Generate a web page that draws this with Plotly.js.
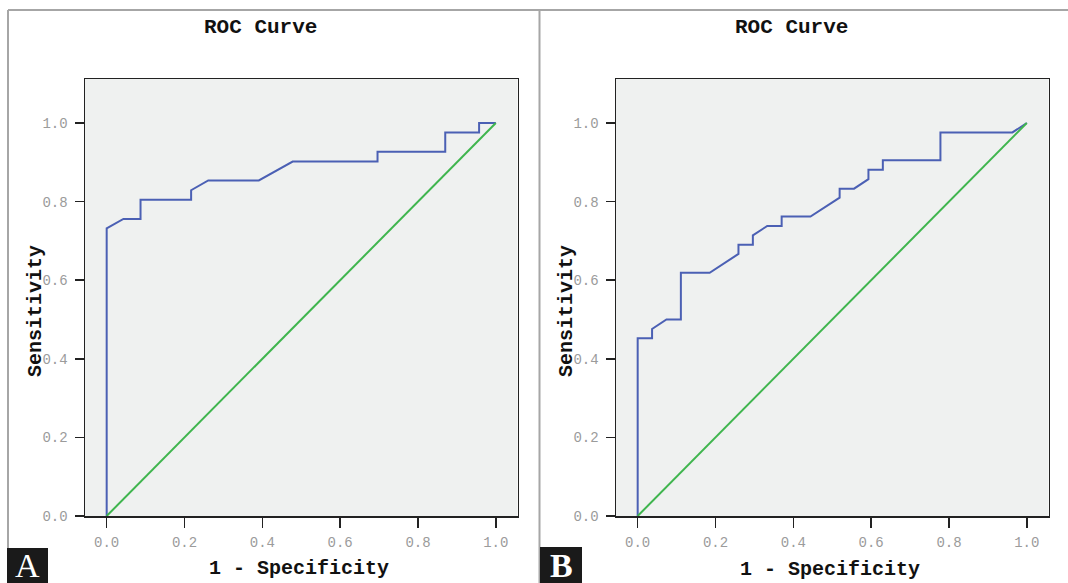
<!DOCTYPE html>
<html>
<head>
<meta charset="utf-8">
<script src="https://cdn.plot.ly/plotly-3.0.1.min.js"></script>
<style>
html, body { margin: 0; padding: 0; background: #ffffff; }
#chart { width: 1068px; height: 583px; }
</style>
</head>
<body>
<div id="chart"></div>
<script>
// ---- Data ----
// Panel A ROC curve (1 - Specificity, Sensitivity)
var fprA = [0, 0, 0.043, 0.087, 0.087, 0.217, 0.217, 0.261, 0.391, 0.478, 0.696, 0.696, 0.870, 0.870, 0.957, 0.957, 1.0];
var tprA = [0, 0.732, 0.756, 0.756, 0.805, 0.805, 0.829, 0.854, 0.854, 0.902, 0.902, 0.927, 0.927, 0.976, 0.976, 1.0, 1.0];
// Panel B ROC curve
var fprB = [0, 0, 0.037, 0.037, 0.074, 0.111, 0.111, 0.185, 0.259, 0.259, 0.296, 0.296, 0.333, 0.370, 0.370, 0.444, 0.519, 0.519, 0.556, 0.593, 0.593, 0.630, 0.630, 0.778, 0.778, 0.963, 1.0];
var tprB = [0, 0.452, 0.452, 0.476, 0.500, 0.500, 0.619, 0.619, 0.667, 0.690, 0.690, 0.714, 0.738, 0.738, 0.762, 0.762, 0.810, 0.833, 0.833, 0.857, 0.881, 0.881, 0.905, 0.905, 0.976, 0.976, 1.0];
// Reference (chance) line
var diagX = [0, 1];
var diagY = [0, 1];
// Ticks and labels
var tickVals = [0, 0.2, 0.4, 0.6, 0.8, 1.0];
var tickText = ["0.0", "0.2", "0.4", "0.6", "0.8", "1.0"];
var chartTitle = "ROC Curve";
var xTitle = "1 - Specificity";
var yTitle = "Sensitivity";
var panelLabels = ["A", "B"];

// ---- Layout helpers (pixel -> paper) ----
var W = 1068, H = 583;
function px(x) { return x / W; }
function py(y) { return 1 - y / H; }

var curveColor = "#4b60b4";
var diagColor = "#3fb54e";
var mono = "Liberation Mono, Courier New, monospace";

var traces = [
  {x: fprA, y: tprA, xaxis: "x", yaxis: "y", mode: "lines", line: {color: curveColor, width: 2}, hoverinfo: "x+y", showlegend: false},
  {x: diagX, y: diagY, xaxis: "x", yaxis: "y", mode: "lines", line: {color: diagColor, width: 2}, showlegend: false},
  {x: fprB, y: tprB, xaxis: "x2", yaxis: "y2", mode: "lines", line: {color: curveColor, width: 2}, hoverinfo: "x+y", showlegend: false},
  {x: diagX, y: diagY, xaxis: "x2", yaxis: "y2", mode: "lines", line: {color: diagColor, width: 2}, showlegend: false}
];

function xAxis(domain, anchor) {
  return {
    domain: domain, anchor: anchor, range: [-0.0557, 1.0557],
    tickmode: "array", tickvals: tickVals, ticktext: tickText,
    ticks: "outside", ticklen: 10, tickwidth: 1.5, tickcolor: "#222",
    showline: true, linecolor: "#222", linewidth: 1.5, mirror: true,
    showgrid: false, zeroline: false, fixedrange: true,
    tickfont: {family: mono, size: 14, color: "#9b9b9b"},
    ticklabelstandoff: 3
  };
}
function yAxis(domain, anchor) {
  return {
    domain: domain, anchor: anchor, range: [0, 1.112],
    tickmode: "array", tickvals: tickVals, ticktext: tickText,
    ticks: "outside", ticklen: 9, tickwidth: 1.5, tickcolor: "#222",
    showline: true, linecolor: "#222", linewidth: 1.5, mirror: true,
    showgrid: false, zeroline: false, fixedrange: true,
    tickfont: {family: mono, size: 14, color: "#9b9b9b"},
    ticklabelstandoff: 4
  };
}

var yDom = [py(516), py(79)];
var layout = {
  width: W, height: H,
  margin: {l: 0, r: 0, t: 0, b: 0, pad: 0},
  paper_bgcolor: "#ffffff",
  plot_bgcolor: "#eff1f0",
  showlegend: false,
  xaxis: xAxis([px(85), px(517.5)], "y"),
  yaxis: yAxis(yDom, "x"),
  xaxis2: xAxis([px(616), px(1048.5)], "y2"),
  yaxis2: yAxis(yDom, "x2"),
  shapes: [
    // outer gray frame
    {type: "line", xref: "paper", yref: "paper", x0: px(8), x1: px(1068), y0: py(10), y1: py(10), line: {color: "#a6a6a6", width: 2}},
    {type: "line", xref: "paper", yref: "paper", x0: px(8), x1: px(8), y0: py(10), y1: py(583), line: {color: "#a6a6a6", width: 2}},
    {type: "line", xref: "paper", yref: "paper", x0: px(539.5), x1: px(539.5), y0: py(10), y1: py(583), line: {color: "#a6a6a6", width: 2}},
    // panel label boxes
    {type: "rect", xref: "paper", yref: "paper", x0: px(7), x1: px(48), y0: py(548), y1: py(583), fillcolor: "#1a1a1a", line: {width: 0}},
    {type: "rect", xref: "paper", yref: "paper", x0: px(540), x1: px(582), y0: py(547), y1: py(583), fillcolor: "#1a1a1a", line: {width: 0}}
  ],
  annotations: [
    {xref: "paper", yref: "paper", x: px(260), y: py(27), text: "<b>" + chartTitle + "</b>", showarrow: false, xanchor: "center", yanchor: "middle", font: {family: mono, size: 21, color: "#111"}},
    {xref: "paper", yref: "paper", x: px(791), y: py(27), text: "<b>" + chartTitle + "</b>", showarrow: false, xanchor: "center", yanchor: "middle", font: {family: mono, size: 21, color: "#111"}},
    {xref: "paper", yref: "paper", x: px(298.5), y: py(568), text: "<b>" + xTitle + "</b>", showarrow: false, xanchor: "center", yanchor: "middle", font: {family: mono, size: 20, color: "#111"}},
    {xref: "paper", yref: "paper", x: px(830), y: py(569), text: "<b>" + xTitle + "</b>", showarrow: false, xanchor: "center", yanchor: "middle", font: {family: mono, size: 20, color: "#111"}},
    {xref: "paper", yref: "paper", x: px(35), y: py(311), text: "<b>" + yTitle + "</b>", textangle: -90, showarrow: false, xanchor: "center", yanchor: "middle", font: {family: mono, size: 20, color: "#111"}},
    {xref: "paper", yref: "paper", x: px(566), y: py(311), text: "<b>" + yTitle + "</b>", textangle: -90, showarrow: false, xanchor: "center", yanchor: "middle", font: {family: mono, size: 20, color: "#111"}},
    {xref: "paper", yref: "paper", x: px(27.5), y: py(565), text: panelLabels[0], showarrow: false, xanchor: "center", yanchor: "middle", font: {family: "Liberation Serif, DejaVu Serif, serif", size: 34, color: "#ffffff"}},
    {xref: "paper", yref: "paper", x: px(561), y: py(565), text: "<b>" + panelLabels[1] + "</b>", showarrow: false, xanchor: "center", yanchor: "middle", font: {family: "Liberation Serif, DejaVu Serif, serif", size: 34, color: "#ffffff"}}
  ]
};

Plotly.newPlot("chart", traces, layout, {displayModeBar: false, staticPlot: true});
</script>
</body>
</html>
